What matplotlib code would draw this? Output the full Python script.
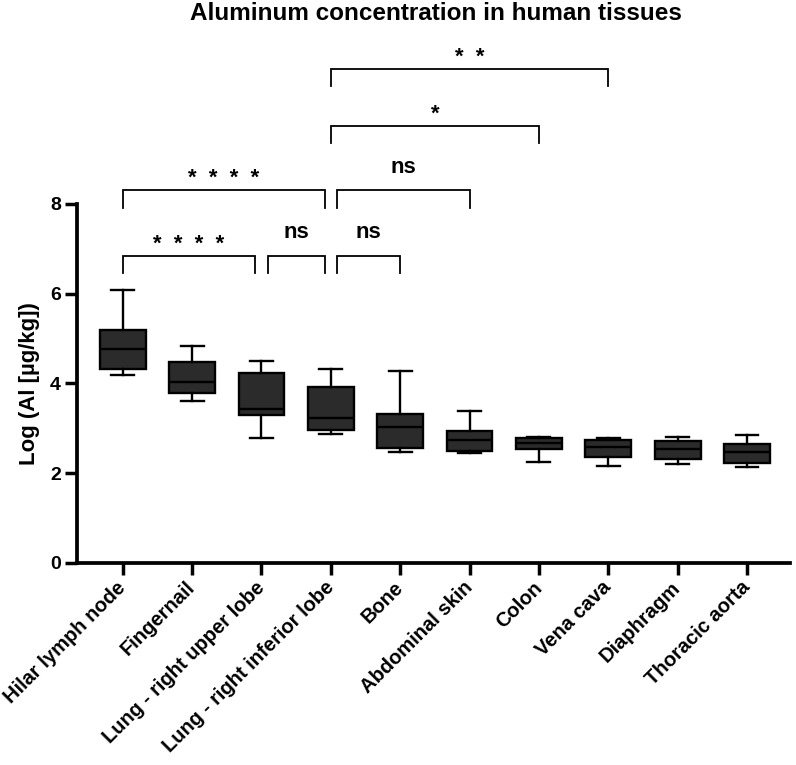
import matplotlib
matplotlib.use("Agg")
import matplotlib.pyplot as plt

plt.rcParams['font.family'] = ['Liberation Sans', 'DejaVu Sans']
plt.rcParams['font.weight'] = 'bold'

# ---------------- data ----------------
categories = ["Hilar lymph node", "Fingernail", "Lung - right upper lobe",
              "Lung - right inferior lobe", "Bone", "Abdominal skin", "Colon",
              "Vena cava", "Diaphragm", "Thoracic aorta"]
whisker_low = [4.19, 3.62, 2.78, 2.88, 2.47, 2.46, 2.25, 2.15, 2.20, 2.13]
q1 = [4.32, 3.79, 3.30, 2.96, 2.56, 2.50, 2.53, 2.37, 2.32, 2.22]
median = [4.77, 4.04, 3.44, 3.23, 3.04, 2.74, 2.68, 2.59, 2.55, 2.47]
q3 = [5.19, 4.47, 4.23, 3.93, 3.33, 2.95, 2.78, 2.74, 2.72, 2.65]
whisker_high = [6.08, 4.83, 4.51, 4.33, 4.28, 3.39, 2.81, 2.78, 2.81, 2.86]

# comparisons: (group a, group b, label, bracket level)
comp_a = [0, 2, 3, 0, 3, 3, 3]
comp_b = [2, 3, 4, 3, 5, 6, 7]
comp_label = ["*  *  *  *", "ns", "ns", "*  *  *  *", "ns", "*", "*  *"]
comp_level = [0, 0, 0, 1, 1, 2, 3]

title = "Aluminum concentration in human tissues"
ylabel = "Log (Al [µg/kg])"
yticks = [0, 2, 4, 6, 8]

# ---------------- figure ----------------
fig = plt.figure(figsize=(7.96, 7.65), dpi=100)
ax = fig.add_axes([0.0967, 0.2641, 0.8958, 0.4693])

stats = []
for i in range(len(categories)):
    stats.append(dict(whislo=whisker_low[i], q1=q1[i], med=median[i],
                      q3=q3[i], whishi=whisker_high[i], fliers=[]))

positions = list(range(len(categories)))
ax.bxp(stats, positions=positions, widths=0.66, patch_artist=True,
       showfliers=False,
       boxprops=dict(facecolor='#2b2b2b', edgecolor='black', linewidth=1.7),
       medianprops=dict(color='black', linewidth=1.7),
       whiskerprops=dict(color='black', linewidth=1.7),
       capprops=dict(color='black', linewidth=1.7))

ax.set_xlim(-0.66, 9.62)
ax.set_ylim(0, 8)
ax.set_yticks(yticks)
ax.set_yticklabels([str(t) for t in yticks], fontsize=14, fontweight='bold')
ax.set_xticks(positions)
ax.set_xticklabels(categories, fontsize=14.5, fontweight='bold',
                   rotation=45, ha='right', va='center', rotation_mode='anchor')
ax.tick_params(axis='both', length=8.5, width=2.5, color='black')
ax.tick_params(axis='x', pad=7)
ax.tick_params(axis='y', pad=3)
for side in ['top', 'right']:
    ax.spines[side].set_visible(False)
for side in ['left', 'bottom']:
    ax.spines[side].set_linewidth(2.7)

ax.set_ylabel(ylabel, fontsize=16, fontweight='bold')
ax.yaxis.set_label_coords(-0.052, 0.5)

fig.text(0.548, 0.983, title, fontsize=17.5, fontweight='bold',
         ha='center', va='center')

# ---------------- significance brackets ----------------
level_y = [6.84, 8.30, 9.74, 11.0]
leg = 0.38
shrink = 0.09
for k in range(len(comp_a)):
    a, b, lev = comp_a[k], comp_b[k], comp_level[k]
    xa, xb = float(a), float(b)
    for j in range(len(comp_a)):
        if j != k and comp_level[j] == lev:
            if comp_b[j] == a:
                xa += shrink
            if comp_a[j] == b:
                xb -= shrink
    y = level_y[lev]
    ax.plot([xa, xa, xb, xb], [y - leg, y, y, y - leg], color='black',
            linewidth=1.3, clip_on=False, solid_joinstyle='miter')
    is_ns = comp_label[k] == 'ns'
    off = 0.40 if is_ns else 0.14
    ax.text((xa + xb) / 2, y + off, comp_label[k], ha='center', va='baseline',
            fontsize=16, fontweight='bold', clip_on=False)

fig.savefig("out.png", dpi=100)
